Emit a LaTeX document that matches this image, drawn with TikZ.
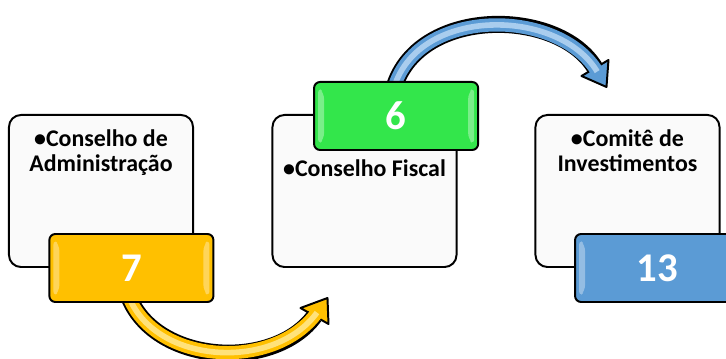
\documentclass[tikz,border=0pt]{standalone}
\usepackage{fontspec}
\setmainfont{Carlito}
\usetikzlibrary{positioning,calc,backgrounds}
\definecolor{ink}{HTML}{000000}
\definecolor{paper}{HTML}{FAFAFA}
\definecolor{amber}{HTML}{FFC000}
\definecolor{amberlight}{HTML}{FFE27A}
\definecolor{leaf}{HTML}{33E64B}
\definecolor{sky}{HTML}{5B9BD5}
\definecolor{skylight}{HTML}{A9CDEE}

\begin{document}
\begin{tikzpicture}[x=0.025cm,y=-0.025cm,
    orgao/.style={draw=ink,line width=1.4pt,fill=paper,rounded corners=0.3cm,
      minimum width=4.6cm,minimum height=3.8cm,inner sep=0pt},
    badge/.style={draw=ink,line width=1.4pt,rounded corners=0.15cm,
      minimum width=4.1cm,minimum height=1.7cm,inner sep=0pt,text=white,
      font=\fontsize{29}{29}\selectfont\bfseries,
      path picture={
        \fill[white,opacity=.35] ($(path picture bounding box.north west)+(4,5)$)
          -- ($(path picture bounding box.north west)+(10,11)$)
          -- ($(path picture bounding box.south west)+(10,-11)$)
          -- ($(path picture bounding box.south west)+(4,-5)$) -- cycle;
        \fill[white,opacity=.35] ($(path picture bounding box.north east)+(-4,5)$)
          -- ($(path picture bounding box.north east)+(-10,11)$)
          -- ($(path picture bounding box.south east)+(-10,-11)$)
          -- ($(path picture bounding box.south east)+(-4,-5)$) -- cycle;
      }},
    rotulo/.style={align=center,inner sep=0pt,
      font=\fontsize{17}{17.8}\selectfont\bfseries},
    ponta/.style={draw=ink,line width=1.4pt,line join=round,fill=#1},
    seta/.style 2 args={draw=ink,line width=12.1pt,shorten <=-4pt,
      postaction={draw=#1,line width=9.4pt,shorten >=-3pt,shorten <=-4pt},
      postaction={draw=#2,line width=4pt,shorten >=-3pt,shorten <=-4pt}}]
  \useasboundingbox (0,0) rectangle (726,359);

  % the three boards
  \node[orgao] (b1) at (101,191) {};
  \node[orgao] (b2) at (364.5,191) {};
  \node[orgao] (b3) at (627.5,191) {};

  \node[rotulo,anchor=north] (t1) at ([yshift=-0.38cm]b1.north) {•Conselho de\\Administração};
  \node[rotulo,anchor=north] (t2) at ([yshift=-1.13cm]b2.north) {•Conselho Fiscal};
  \node[rotulo,anchor=north] (t3) at ([yshift=-0.38cm]b3.north) {•Comitê de\\Investimentos};

  % member counts
  \node[badge,fill=amber] (n7) at ([xshift=0.76cm]b1.south) {7};
  \node[badge,fill=leaf] (n6) at ([xshift=0.79cm,yshift=-0.05cm]b2.north) {6};
  \node[badge,fill=sky] (n13) at ([xshift=0.74cm]b3.south) {13};

  % curved arrows
  \begin{scope}[on background layer]
    \coordinate (yt) at ($(b2.south west)+(56,30)$);
    \coordinate (ym) at ($(yt)+(-13,18)$);
    \path[ponta=amber] (yt) -- +(-27,10) -- +(1,26) -- cycle;
    \path[seta={amber}{amberlight}] (n7.south) .. controls +(26,62) and +(-40,55) .. (ym);

    \coordinate (bt) at ($(b3.north west)+(72,-27)$);
    \coordinate (bm) at ($(bt)+(-11.5,-19)$);
    \path[ponta=sky] (bt) -- +(-25,-11) -- +(2,-27) -- cycle;
    \path[seta={sky}{skylight}] (n6.north) .. controls +(24,-75) and +(-36,-60) .. (bm);
  \end{scope}
\end{tikzpicture}
\end{document}
